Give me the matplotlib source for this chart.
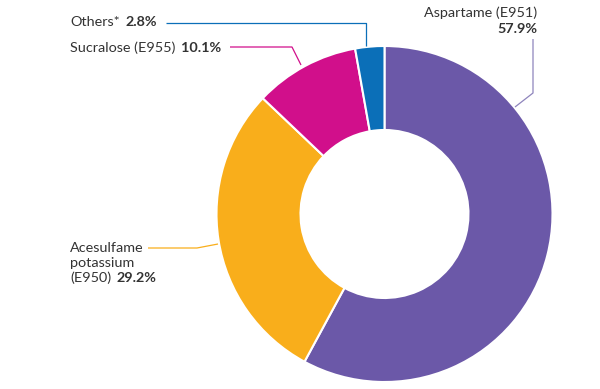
import matplotlib.pyplot as plt

labels = ['Aspartame (E951)', 'Acesulfame potassium (E950)', 'Sucralose (E955)', 'Others*']
shares = [57.9, 29.2, 10.1, 2.8]
colors = ['#6B58A8', '#F9AE1B', '#D10F8B', '#0B6FB8']

H = 389
def fy(y):
    # pixel y (from top) to data y
    return H - y

plt.rcParams['font.family'] = ['Lato', 'DejaVu Sans']
txt = '#333333'
fs = 10.4

fig = plt.figure(figsize=(6, 3.89), dpi=100)
ax = fig.add_axes([0, 0, 1, 1])
ax.pie(shares, colors=colors, startangle=90, counterclock=False,
       center=(384.5, fy(214)), radius=168,
       wedgeprops=dict(width=84, edgecolor='white', linewidth=1.5))
ax.set_xlim(0, 600)
ax.set_ylim(0, H)
ax.set_aspect('equal')
ax.axis('off')

def leader(pts, c):
    ax.plot([p[0] for p in pts], [fy(p[1]) for p in pts], color=c, lw=0.9,
            solid_capstyle='butt')

# Aspartame
ax.text(537, fy(13), 'Aspartame (E951)', ha='right', va='center', fontsize=fs, color=txt)
ax.text(537, fy(29), f'{shares[0]}%', ha='right', va='center', fontsize=fs,
        color=txt, fontweight='bold')
leader([(533, 39), (533, 93), (515, 107)], '#8E84BC')

# Others
t = ax.text(70, fy(22), 'Others*', ha='left', va='center', fontsize=fs, color=txt)
ax.annotate(f'{shares[3]}%', xy=(1, 0.5), xycoords=t, xytext=(4, 0),
            textcoords='offset points', ha='left', va='center', fontsize=fs,
            color=txt, fontweight='bold')
leader([(166, 23), (366, 23), (366, 46)], colors[3])

# Sucralose
t = ax.text(70, fy(48), 'Sucralose (E955)', ha='left', va='center', fontsize=fs, color=txt)
ax.annotate(f'{shares[2]}%', xy=(1, 0.5), xycoords=t, xytext=(4, 0),
            textcoords='offset points', ha='left', va='center', fontsize=fs,
            color=txt, fontweight='bold')
leader([(230, 47), (292, 47), (301, 65)], colors[2])

# Acesulfame
ax.text(70, fy(248), 'Acesulfame', ha='left', va='center', fontsize=fs, color=txt)
ax.text(70, fy(263), 'potassium', ha='left', va='center', fontsize=fs, color=txt)
t = ax.text(70, fy(278), '(E950)', ha='left', va='center', fontsize=fs, color=txt)
ax.annotate(f'{shares[1]}%', xy=(1, 0.5), xycoords=t, xytext=(4, 0),
            textcoords='offset points', ha='left', va='center', fontsize=fs,
            color=txt, fontweight='bold')
leader([(148, 248), (197, 248), (218, 244)], colors[1])

fig.savefig('out.png', dpi=100)
